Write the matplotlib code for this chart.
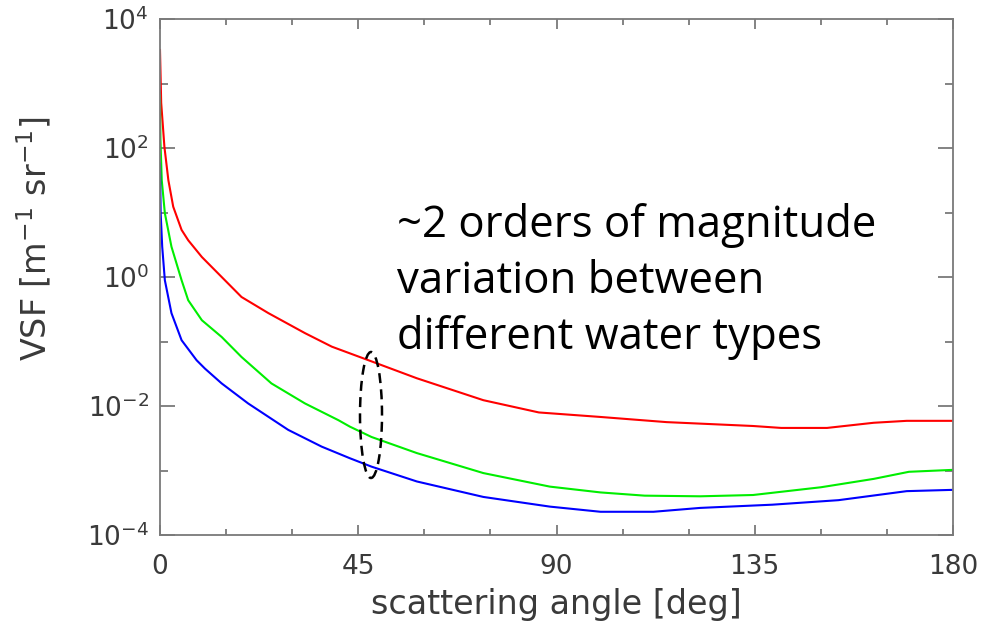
import numpy as np
import matplotlib
matplotlib.use("Agg")
import matplotlib.pyplot as plt
from matplotlib.patches import Ellipse
from matplotlib.ticker import FixedLocator, NullFormatter

# scattering angle [deg] and log10(VSF) for three water types
red_angle = [0, 0.27, 1.0, 1.9, 3.0, 4.9, 6.4, 9.5, 14, 18.5, 24.6, 32.9, 39, 47.3,
             58.3, 73.4, 86, 100, 115, 134.6, 141, 151.4, 162, 169.5, 180]
red_logv = [3.52, 2.70, 2.02, 1.50, 1.09, 0.73, 0.57, 0.31, 0.0, -0.31, -0.56, -0.87,
            -1.08, -1.29, -1.57, -1.91, -2.1, -2.17, -2.25, -2.31, -2.34, -2.34,
            -2.26, -2.23, -2.23]

green_angle = [0, 0.1, 0.4, 1.1, 2.6, 4.9, 6.4, 9.5, 14, 18.5, 25.3, 32.9, 40.5,
               43.1, 48, 58.3, 73.4, 88.5, 100, 110, 122.6, 134.6, 150, 162, 170, 180]
green_logv = [2.82, 2.12, 1.50, 0.99, 0.47, -0.05, -0.36, -0.67, -0.93, -1.24, -1.65,
              -1.96, -2.22, -2.32, -2.48, -2.73, -3.04, -3.25, -3.34, -3.39, -3.40,
              -3.38, -3.26, -3.13, -3.02, -2.99]

blue_angle = [0, 0.15, 0.5, 1.1, 2.6, 4.9, 8.3, 10.2, 14, 20, 29.1, 36.7, 43.1, 48,
              58.3, 73.4, 88.5, 100, 112, 122.6, 139, 154, 169.5, 180]
blue_logv = [1.76, 0.99, 0.47, -0.05, -0.56, -0.98, -1.29, -1.42, -1.65, -1.96, -2.37,
             -2.63, -2.81, -2.94, -3.17, -3.41, -3.56, -3.64, -3.64, -3.58, -3.53,
             -3.46, -3.32, -3.30]

x_ticks = [0, 45, 90, 135, 180]
x_minor = [15, 30, 60, 75, 105, 120, 150, 165]
y_major = [1e-4, 1e-2, 1e0, 1e2, 1e4]
y_major_labels = ["$10^{-4}$", "$10^{-2}$", "$10^{0}$", "$10^{2}$", "$10^{4}$"]
y_minor = [1e-3, 1e-1, 1e1, 1e3]

annotation = "~2 orders of magnitude\nvariation between\ndifferent water types"

fig = plt.figure(figsize=(9.86, 6.26), dpi=100)
ax = fig.add_axes([160/986, 91/626, 793/986, 516/626])

axis_gray = "#7a7a7a"
text_gray = "#3a3a3a"

for ang, lv, col in [(red_angle, red_logv, "#ff0000"),
                     (green_angle, green_logv, "#00ee00"),
                     (blue_angle, blue_logv, "#0000ff")]:
    ax.plot(ang, 10.0 ** np.array(lv), color=col, lw=1.5, zorder=2)

ax.set_yscale("log")
ax.set_xlim(0, 180)
ax.set_ylim(1e-4, 1e4)

ax.xaxis.set_major_locator(FixedLocator(x_ticks))
ax.xaxis.set_minor_locator(FixedLocator(x_minor))
ax.yaxis.set_major_locator(FixedLocator(y_major))
ax.yaxis.set_minor_locator(FixedLocator(y_minor))
ax.yaxis.set_minor_formatter(NullFormatter())
ax.set_xticklabels([str(t) for t in x_ticks])
ax.set_yticklabels(y_major_labels)

for s in ax.spines.values():
    s.set_color(axis_gray)
    s.set_linewidth(1.3)
    s.set_zorder(3)

ax.tick_params(axis="both", which="both", direction="in", top=True, right=True,
               color=axis_gray, width=1.3, labelcolor=text_gray, labelsize=19)
ax.tick_params(axis="y", which="major", length=11, pad=8)
ax.tick_params(axis="y", which="minor", length=6)
ax.tick_params(axis="x", which="major", length=7.5, pad=14)
ax.tick_params(axis="x", which="minor", length=4.5)

ax.set_xlabel("scattering angle [deg]", fontsize=24, color=text_gray)
ax.xaxis.set_label_coords(0.5, -0.102)
ax.set_ylabel("VSF [m$^{-1}$ sr$^{-1}$]", fontsize=24, color=text_gray)
ax.yaxis.set_label_coords(-0.134, 0.575)

ell = Ellipse((211/793, 120/516), 22/793, 126/516, transform=ax.transAxes,
              fill=False, edgecolor="black", lw=1.8, linestyle=(0, (4, 2.5)), zorder=4)
ax.add_patch(ell)

ax.text(237/793, (535-203)/516, annotation, transform=ax.transAxes,
        fontsize=31.5, family="Open Sans", color="black", va="top", ha="left",
        linespacing=1.33, zorder=5)

fig.savefig("out.png", dpi=100)
